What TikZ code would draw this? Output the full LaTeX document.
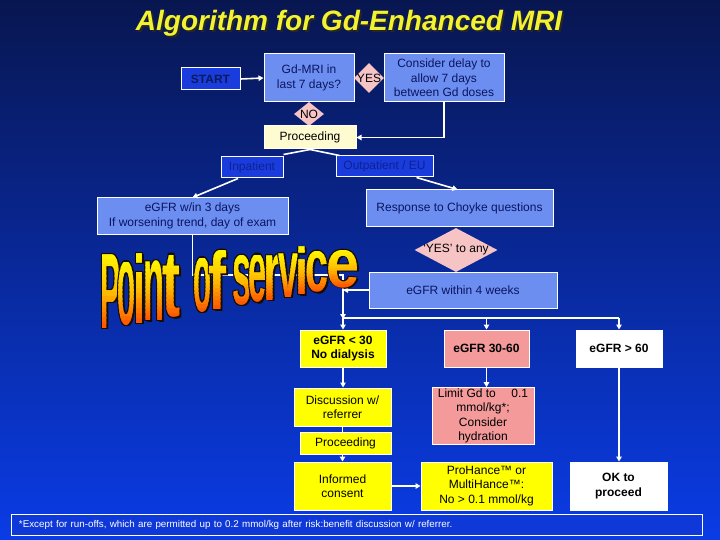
\documentclass[tikz,border=0pt]{standalone}
\usepackage{fontspec}
\setmainfont{Liberation Sans}
\usepackage{graphicx}
\usetikzlibrary{shapes.geometric,arrows.meta}
\definecolor{bgtop}{HTML}{081650}
\definecolor{bgmid}{HTML}{0C2CA4}
\definecolor{bgbot}{HTML}{0A3CE6}
\definecolor{lblue}{HTML}{6C8EF0}
\definecolor{dblue}{HTML}{1A3CDC}
\definecolor{navytext}{HTML}{0A1560}
\definecolor{dbtext}{HTML}{0E2290}
\definecolor{startxt}{HTML}{0A1A5A}
\definecolor{pinkd}{HTML}{F6C4C4}
\definecolor{creamb}{HTML}{FFFBD0}
\definecolor{yelb}{HTML}{FFFF00}
\definecolor{salmon}{HTML}{F49A9A}
\definecolor{footblue}{HTML}{0E38D8}
\definecolor{titley}{HTML}{F2F230}
\definecolor{posy}{HTML}{FFF400}
\definecolor{posm}{HTML}{FFBE00}
\definecolor{poso}{HTML}{FF5A00}
\newfontfamily\posfont{Liberation Sans Bold}
\tikzset{
  box/.style={draw=white, line width=1pt, inner sep=1pt, align=center,
    font=\fontsize{12}{14.5}\selectfont},
  lbbox/.style={box, fill=lblue, text=navytext},
  dbbox/.style={box, fill=dblue, text=dbtext},
  crbox/.style={box, fill=creamb, text=black},
  ylbox/.style={box, fill=yelb, text=black},
  sabox/.style={box, fill=salmon, text=black},
  whbox/.style={box, fill=white, text=black},
  dia/.style={shape=diamond, fill=pinkd, draw=none, inner sep=0pt},
  diatext/.style={font=\fontsize{12}{14}\selectfont, text=black, inner sep=0pt},
  conn/.style={draw=white, line width=1.6pt},
  thinconn/.style={draw=white, line width=1.2pt},
  arr/.style={conn, -{Triangle[length=5pt,width=5.5pt]}},
  thinarr/.style={thinconn, -{Triangle[length=5pt,width=5.5pt]}},
  posletter/.style={anchor=south west, inner sep=0pt},
}
\def\posletters{P/102/17/1, o/119/15/0.88, i/135/9/1, n/145/18/0.88, t/164/15/0.95,
  o/195/15/0.88, f/210/15/1, s/234/16/0.88, e/250/15/0.88, r/265/15/0.88,
  v/280/17/0.88, i/297/10/1, c/307/20/0.88, e/328/30/0.88}
\begin{document}
\begin{tikzpicture}[x=1pt, y=-1pt]
\useasboundingbox (0,0) rectangle (720,540);
\shade[top color=bgtop, middle color=bgmid, bottom color=bgbot] (0,0) rectangle (720,540);

% title
\node[text=black!85, font=\fontsize{28}{30}\selectfont\bfseries\itshape] (titleS) at (351,25) {Algorithm for Gd-Enhanced MRI};
\node[text=titley, font=\fontsize{28}{30}\selectfont\bfseries\itshape] (title) at (349,23) {Algorithm for Gd-Enhanced MRI};

% boxes
\node[box, fill=dblue, text=startxt, font=\fontsize{12}{14}\selectfont\bfseries, minimum width=59pt, minimum height=22pt] (start) at (210.5,79) {START};
\node[lbbox, minimum width=90pt, minimum height=48pt] (gdmri) at (309,78) {Gd-MRI in\\last 7 days?};
\node[lbbox, minimum width=120pt, minimum height=48pt] (consider) at (444,78) {Consider delay to\\allow 7 days\\between Gd doses};
\node[dia, minimum width=30pt, minimum height=30pt] (yesd) at (369,78) {};
\node[diatext] (yest) at (yesd) {YES};
\node[dia, minimum width=30pt, minimum height=24pt] (nod) at (309,114) {};
\node[diatext] (notx) at (nod) {NO};
\node[crbox, minimum width=92pt, minimum height=23pt] (proc1) at (310,137.5) {Proceeding};
\node[dbbox, minimum width=62pt, minimum height=21pt] (inpat) at (252,167.5) {Inpatient};
\node[dbbox, minimum width=97pt, minimum height=21pt] (outpat) at (384.5,166.5) {Outpatient / EU};
\node[lbbox, minimum width=191pt, minimum height=36pt] (egfr3) at (192.5,216) {eGFR w/in 3 days\\If worsening trend, day of exam};
\node[lbbox, minimum width=187pt, minimum height=37pt] (resp) at (459.5,208.5) {Response to Choyke questions};
\node[dia, minimum width=83pt, minimum height=44pt] (anyd) at (456,250) {};
\node[diatext] (anyt) at (anyd) {`YES' to any};
\node[lbbox, minimum width=188pt, minimum height=36pt] (egfr4) at (463,290) {eGFR within 4 weeks};

\node[ylbox, font=\fontsize{12}{14.5}\selectfont\bfseries, minimum width=86pt, minimum height=37pt] (lt30) at (343,348.5) {eGFR < 30\\No dialysis};
\node[sabox, font=\fontsize{12}{14.5}\selectfont\bfseries, minimum width=85pt, minimum height=37pt] (mid) at (486.5,348.5) {eGFR 30-60};
\node[whbox, font=\fontsize{12}{14.5}\selectfont\bfseries, minimum width=86pt, minimum height=37pt] (gt60) at (619,348.5) {eGFR > 60};
\node[ylbox, minimum width=97pt, minimum height=38pt] (disc) at (342.5,407) {Discussion w/\\referrer};
\node[sabox, minimum width=102pt, minimum height=56pt] (limit) at (483,416) {Limit Gd to\hspace{1.3em}0.1\\mmol/kg*;\\Consider\\hydration};
\node[ylbox, minimum width=91pt, minimum height=22pt] (proc2) at (345.5,443) {Proceeding};
\node[ylbox, minimum width=97pt, minimum height=48pt] (inform) at (342.5,486) {Informed\\consent};
\node[ylbox, minimum width=131pt, minimum height=48pt] (prohance) at (486.5,486) {ProHance™ or\\MultiHance™:\\No > 0.1 mmol/kg};
\node[whbox, font=\fontsize{12}{14.5}\selectfont\bfseries, minimum width=97pt, minimum height=48pt] (ok) at (618.5,486) {OK to\\proceed};
\node[draw=white, line width=1pt, fill=footblue, minimum width=691pt, minimum height=21pt, text width=675pt, align=left, inner xsep=8pt, inner ysep=0pt, text=white, font=\fontsize{9.8}{11}\selectfont] (foot) at (356.5,524.5) {*Except for run-offs, which are permitted up to 0.2 mmol/kg after risk:benefit discussion w/ referrer.};

% junction coordinates
\coordinate (jn) at (343,275);
\coordinate (jn2) at (343,290);
\coordinate (busL) at (343,318);
\coordinate (busR) at (619,318);

% connectors
\draw[arr] (start.east) -- (gdmri.west);
\draw[arr] (consider.south) |- (proc1.east);
\draw[conn] (proc1.south) -- ([yshift=2pt]inpat.north east);
\draw[conn] (proc1.south) -- ([xshift=4pt]outpat.north west);
\draw[arr] ([xshift=-14pt]inpat.south) -- (egfr3.north);
\draw[arr] ([xshift=32pt]outpat.south) -- ([xshift=-2pt]resp.north);
\draw[arr] (egfr4.west) -- (jn2);
\draw[arr] (egfr3.south) |- (jn) -- ([yshift=-1pt]busL);
\draw[thinconn] (busL) -- (busR);
\draw[thinarr] (busL) -- (lt30.north);
\draw[thinarr] (mid.north |- busL) -- (mid.north);
\draw[thinarr] (busR) -- (gt60.north);
\draw[arr] (lt30.south) -- (lt30.south |- disc.north);
\draw[conn] (disc.south) -- (disc.south |- proc2.north);
\draw[arr] ([xshift=-3pt]proc2.south) -- ([xshift=-3pt]proc2.south |- inform.north);
\draw[arr] (inform.east) -- (prohance.west);
\draw[arr] (mid.south) -- (mid.south |- limit.north);
\draw[arr] (gt60.south) -- (gt60.south |- ok.north);

% Point of service: dark outline copies, then gradient bands
\foreach \ch/\xl/\w/\k in \posletters {
  \pgfmathsetmacro{\xc}{\xl+\w/2}
  \pgfmathsetmacro{\xx}{\xl-1.5}
  \pgfmathsetmacro{\ww}{\w+3}
  \pgfmathsetmacro{\bb}{330-45*(\xc-102)/258}
  \pgfmathsetmacro{\hh}{(75-35*(\xc-102)/258)*\k}
  \pgfmathsetmacro{\tp}{\bb-\hh}
  \foreach \dx/\dy in {-0.9/-0.9, 0.9/-0.9, -0.9/0.9, 0.9/0.9, 1.5/1.5} {
    \node[posletter, text=black!90!brown] at (\xx+\dx,\bb+\dy)
      {\resizebox{\ww pt}{\hh pt}{\posfont \ch}};
  }
  \foreach \j in {0,...,13} {
    \pgfmathsetmacro{\ya}{\tp+\j*\hh/14-0.4}
    \pgfmathsetmacro{\yb}{\tp+(\j+1)*\hh/14+0.4}
    \pgfmathtruncatemacro{\pc}{\j*100/13}
    \ifnum\pc<50
      \pgfmathtruncatemacro{\pcc}{2*\pc}
      \colorlet{bandc}{posm!\pcc!posy}
    \else
      \pgfmathtruncatemacro{\pcc}{2*\pc-100}
      \colorlet{bandc}{poso!\pcc!posm}
    \fi
    \begin{scope}
      \clip (\xx-4,\ya) rectangle (\xx+\ww+4,\yb);
      \node[posletter, text=bandc] at (\xx,\bb) {\resizebox{\ww pt}{\hh pt}{\posfont \ch}};
    \end{scope}
  }
}
\end{tikzpicture}
\end{document}
